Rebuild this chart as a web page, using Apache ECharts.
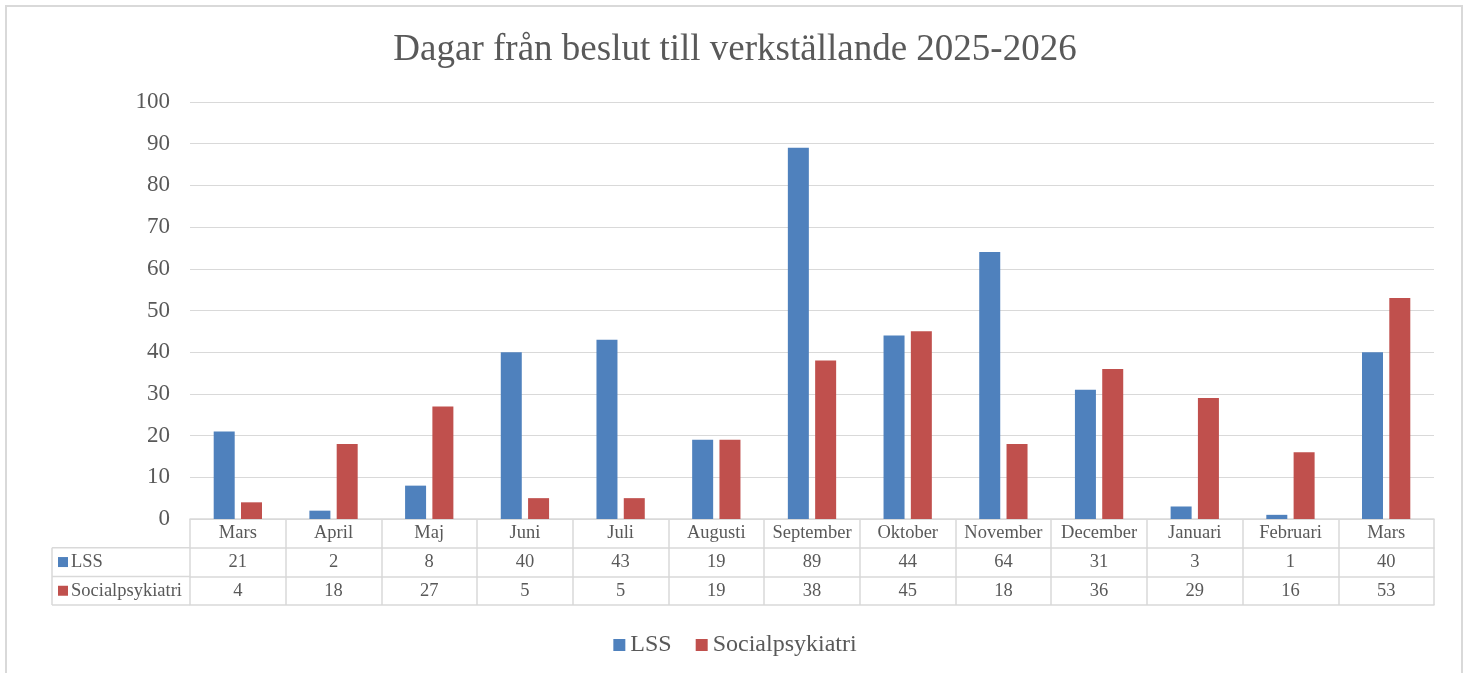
<!DOCTYPE html>
<html lang="sv">
<head>
<meta charset="UTF-8">
<title>Dagar från beslut till verkställande 2025-2026</title>
<script src="https://cdn.jsdelivr.net/npm/echarts@6/dist/echarts.min.js"></script>
<style>
  html, body { margin: 0; padding: 0; background: #fff; }
  #chart { width: 1470px; height: 673px; }
</style>
</head>
<body>
<div id="chart"></div>
<script>
// Data
const months = ['Mars', 'April', 'Maj', 'Juni', 'Juli', 'Augusti', 'September', 'Oktober', 'November', 'December', 'Januari', 'Februari', 'Mars'];
const lss = [21, 2, 8, 40, 43, 19, 89, 44, 64, 31, 3, 1, 40];
const social = [4, 18, 27, 5, 5, 19, 38, 45, 18, 36, 29, 16, 53];
const seriesNames = ['LSS', 'Socialpsykiatri'];

const FONT = '"Liberation Serif", "Times New Roman", serif';
const TEXT = '#595959';
const LINE = '#D9D9D9';
const BLUE = '#4F81BD';
const RED = '#C0504D';
const TABLE_FS = 18.5;

// grid bottom edge = 519, row height ~29
const ROW = 28.7;

const chart = echarts.init(document.getElementById('chart'));

// table rows below the axis, one extra category axis per row
function rowAxis(offset, values, showLabel) {
  return {
    type: 'category',
    data: months,
    position: 'bottom',
    offset: offset,
    axisLine: { show: true, lineStyle: { color: LINE, width: 1.5 } },
    axisTick: { show: false },
    axisLabel: {
      show: showLabel,
      interval: 0,
      margin: 5,
      fontFamily: FONT,
      fontSize: TABLE_FS,
      color: TEXT,
      formatter: (v, i) => values ? String(values[i]) : ''
    },
    splitLine: { show: false }
  };
}

const option = {
  animation: false,
  textStyle: { fontFamily: FONT },
  title: {
    text: 'Dagar från beslut till verkställande 2025-2026',
    left: 'center',
    top: 27,
    textStyle: { fontFamily: FONT, fontSize: 37, fontWeight: 'normal', color: TEXT }
  },
  legend: {
    data: seriesNames,
    left: 'center',
    top: 628,
    itemWidth: 12,
    itemHeight: 12,
    itemGap: 24,
    icon: 'rect',
    textStyle: { fontFamily: FONT, fontSize: 24, color: TEXT }
  },
  grid: { left: 190, right: 36, top: 102, bottom: 154 },
  xAxis: [
    {
      type: 'category',
      data: months,
      axisLine: { show: true, lineStyle: { color: LINE, width: 1.5 } },
      axisTick: { show: true, interval: 0, length: ROW * 3, lineStyle: { color: LINE, width: 1.5 } },
      axisLabel: { interval: 0, margin: 5, fontFamily: FONT, fontSize: TABLE_FS, color: TEXT }
    },
    rowAxis(ROW, lss, true),
    rowAxis(ROW * 2, social, true),
    rowAxis(ROW * 3, null, false)
  ],
  yAxis: {
    type: 'value',
    min: 0,
    max: 100,
    interval: 10,
    axisLine: { show: false },
    axisTick: { show: false },
    axisLabel: { margin: 20, fontFamily: FONT, fontSize: 23, color: TEXT },
    splitLine: { lineStyle: { color: LINE, width: 1 } }
  },
  series: [
    {
      name: seriesNames[0],
      type: 'bar',
      data: lss,
      barWidth: 21,
      barGap: '30%',
      itemStyle: { color: BLUE }
    },
    {
      name: seriesNames[1],
      type: 'bar',
      data: social,
      barWidth: 21,
      barGap: '30%',
      itemStyle: { color: RED }
    }
  ],
  graphic: [
    // outer chart border
    { type: 'rect', shape: { x: 6, y: 6, width: 1456, height: 680 }, style: { fill: 'none', stroke: LINE, lineWidth: 2 }, silent: true },
    // left column of data table
    { type: 'line', shape: { x1: 52, y1: 519 + ROW, x2: 190, y2: 519 + ROW }, style: { stroke: LINE, lineWidth: 1.5 } },
    { type: 'line', shape: { x1: 52, y1: 519 + ROW * 2, x2: 190, y2: 519 + ROW * 2 }, style: { stroke: LINE, lineWidth: 1.5 } },
    { type: 'line', shape: { x1: 52, y1: 519 + ROW * 3, x2: 190, y2: 519 + ROW * 3 }, style: { stroke: LINE, lineWidth: 1.5 } },
    { type: 'line', shape: { x1: 52, y1: 519 + ROW, x2: 52, y2: 519 + ROW * 3 }, style: { stroke: LINE, lineWidth: 1.5 } },
    { type: 'rect', shape: { x: 58, y: 519 + ROW * 1.5 - 5, width: 10, height: 10 }, style: { fill: BLUE } },
    { type: 'rect', shape: { x: 58, y: 519 + ROW * 2.5 - 5, width: 10, height: 10 }, style: { fill: RED } },
    { type: 'text', x: 71, y: 519 + ROW * 1.5, style: { text: seriesNames[0], font: TABLE_FS + 'px ' + FONT, fill: TEXT, verticalAlign: 'middle' } },
    { type: 'text', x: 71, y: 519 + ROW * 2.5, style: { text: seriesNames[1], font: TABLE_FS + 'px ' + FONT, fill: TEXT, verticalAlign: 'middle' } }
  ]
};

chart.setOption(option);
</script>
</body>
</html>
